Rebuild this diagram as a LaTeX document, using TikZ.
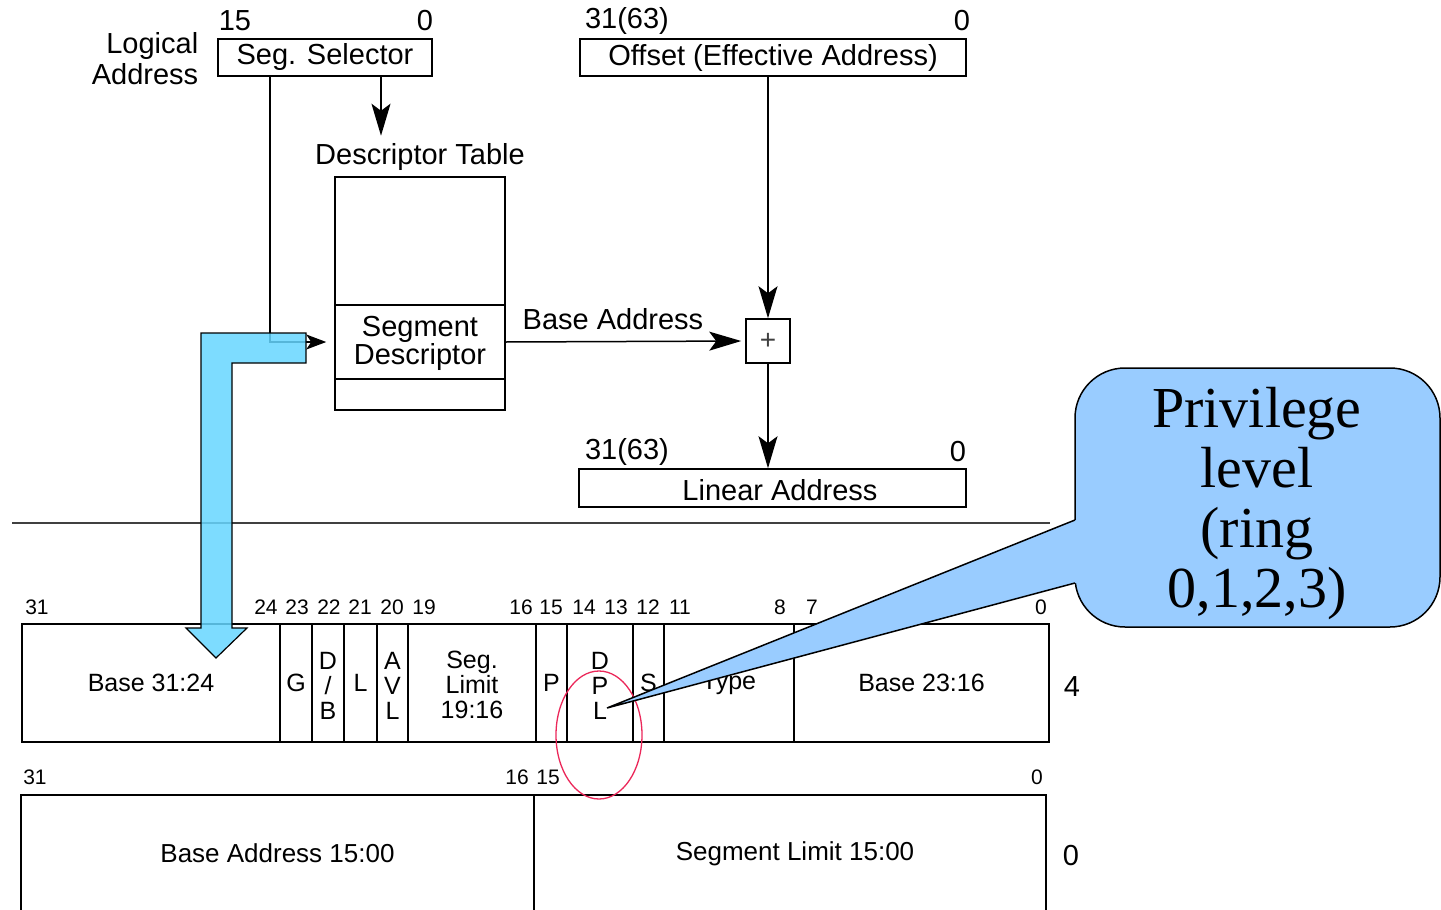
\documentclass[tikz,border=0pt]{standalone}
\usepackage{fontspec}
\setmainfont{Liberation Sans}
\newfontfamily\tms{Liberation Serif}
\usetikzlibrary{arrows.meta}
\definecolor{fatblue}{RGB}{102,214,255}
\definecolor{callblue}{RGB}{153,204,255}
\definecolor{ringred}{RGB}{235,40,90}
\begin{document}
\begin{tikzpicture}[x=1pt,y=-1pt,line width=1.5pt,
  lbl/.style={font=\fontsize{29}{30}\selectfont, inner sep=0pt},
  bit/.style={font=\fontsize{21}{22}\selectfont, inner sep=0pt},
  box/.style={draw, rectangle, inner sep=0pt, font=\fontsize{29}{27}\selectfont, align=center},
  fld/.style={draw, rectangle, inner sep=0pt, minimum height=118pt, font=\fontsize{25}{25}\selectfont, align=center},
  ftxt/.style={inner sep=0pt, font=\fontsize{25}{25}\selectfont, align=center},
  fld2/.style={draw, rectangle, inner sep=0pt, minimum height=117pt, font=\fontsize{26}{26}\selectfont, align=center},
  arr/.style={-{Stealth[length=32pt,width=19pt,inset=7pt]}},
  sarr/.style={-{Stealth[length=20pt,width=15pt,inset=5pt]}}]
\useasboundingbox (0,0) rectangle (1441,910);

% ---------- top part ----------
\node[lbl, align=right, anchor=east, font=\fontsize{29}{31}\selectfont] (la) at (199,59) {Logical\\Address};
\node[box, minimum width=214pt, minimum height=37pt] (sel) at (325,57.5) {Seg. Selector};
\node[lbl] (s15) at (235,21) {15};
\node[lbl] (s0) at (425,21) {0};
\node[box, minimum width=386pt, minimum height=37pt] (off) at (773,57.5) {Offset (Effective Address)};
\node[lbl] (o31) at (627,21) {31(63)};
\node[lbl] (o0) at (962,21) {0};

\node[lbl] (dtl) at (420,157) {Descriptor Table};
\node[box, minimum width=170pt, minimum height=233pt] (dt) at (420,293.5) {};
\node[box, minimum width=170pt, minimum height=74pt] (sd) at (420,342) {};
\node[ftxt, font=\fontsize{29}{27}\selectfont] (sdt) at ([yshift=-1pt]sd.center) {Segment\\Descriptor};

\node[box, minimum width=44pt, minimum height=44pt, font=\fontsize{28}{28}\selectfont, text=black!75] (plus) at (768,341) {+};
\node[lbl] (bal) at (613,319) {Base Address};

\node[box, minimum width=387pt, minimum height=38pt] (lin) at (772.5,488) {};
\node[lbl] (linl) at (780,490) {Linear Address};
\node[lbl] (l31) at (627,452) {31(63)};
\node[lbl] (l0) at (958,452) {0};

% connectors
\draw[arr] ([xshift=56pt]sel.south) -- ([xshift=-39pt,yshift=7pt]dtl.north);
\draw[sarr] ([xshift=-55pt]sel.south) |- ([xshift=-8pt]sd.west);
\draw[arr, shorten >=4pt] (sd.east) -- (plus.west);
\draw[arr] (off.south -| plus.north) -- (plus.north);
\draw[arr] (plus.south) -- (lin.north -| plus.south);

% separator
\draw[line width=2pt, black!75] (12,523) -- (1050,523);

% ---------- descriptor fields, row 1 ----------
\node[fld, minimum width=258pt] (b3124) at (151,683) {Base 31:24};
\node[fld, minimum width=32pt] (g) at (296,683) {G};
\node[fld, minimum width=32pt] (db) at (328,683) {};
\node[ftxt] (dbt) at ([yshift=-3pt]db.center) {D\\/\\B};
\node[fld, minimum width=33pt] (l) at (360.5,683) {L};
\node[fld, minimum width=31pt] (avl) at (392.5,683) {};
\node[ftxt] (avlt) at ([yshift=-3pt]avl.center) {A\\V\\L};
\node[fld, minimum width=128pt] (lim) at (472,683) {};
\node[ftxt] (limt) at ([yshift=-2pt]lim.center) {Seg.\\Limit\\19:16};
\node[fld, minimum width=31pt] (p) at (551.5,683) {P};
\node[fld, minimum width=66pt] (dpl) at (600,683) {};
\node[ftxt] (dplt) at ([yshift=-3pt]dpl.center) {D\\P\\L};
\node[fld, minimum width=31pt] (s) at (648.5,683) {S};
\node[fld, minimum width=130pt] (type) at (729,683) {Type};
\node[fld, minimum width=255pt] (b2316) at (921.5,683) {Base 23:16};
\node[lbl] (w4) at (1072,687) {4};

\foreach \t/\x [count=\i] in {31/37,24/266,23/297,22/329,21/360,20/392,19/424,16/521,15/551,14/584,13/616,12/648,11/680,8/780,7/812,0/1041}
  \node[bit] (ba\i) at (\x,607) {\t};

% ---------- row 2 ----------
\node[fld2, minimum width=513pt] (bal2) at (277.5,853.5) {Base Address 15:00};
\node[fld2, minimum width=512pt] (sl2) at (790,853.5) {};
\node[ftxt, font=\fontsize{26}{26}\selectfont] (sl2t) at ([xshift=5pt]sl2.center) {Segment Limit 15:00};
\node[lbl] (w0) at (1071,856) {0};
\foreach \t/\x [count=\i] in {31/35,16/517,15/548,0/1037}
  \node[bit] (bb\i) at (\x,777) {\t};

% ---------- fat blue arrow ----------
\draw[line width=1.2pt, fill=fatblue, fill opacity=0.85]
  (306,333) -- (201,333) -- (201,628) -- (186,628) -- (216,658) -- (247,628)
  -- (232,628) -- (232,363) -- (306,363) -- cycle;

% ---------- red ring ----------
\draw[ringred, line width=1.3pt] (599,735) ellipse [x radius=43, y radius=64];

% ---------- callout ----------
\coordinate (tip) at (607,708);
\draw[line width=1.5pt, fill=callblue, rounded corners=50pt] (1075,368) rectangle (1440,627);
\fill[callblue] (tip) -- (1075,520) -- (1079,520) -- (1079,583) -- (1075,583) -- cycle;
\draw[line width=1.5pt] (1075,520) -- (tip) -- (1075,583);
\node[inner sep=0pt, align=center, font=\tms\fontsize{58}{60}\selectfont] (cl) at (1257,504) {Privilege\\level\\(ring\\0,1,2,3)};
\end{tikzpicture}
\end{document}
